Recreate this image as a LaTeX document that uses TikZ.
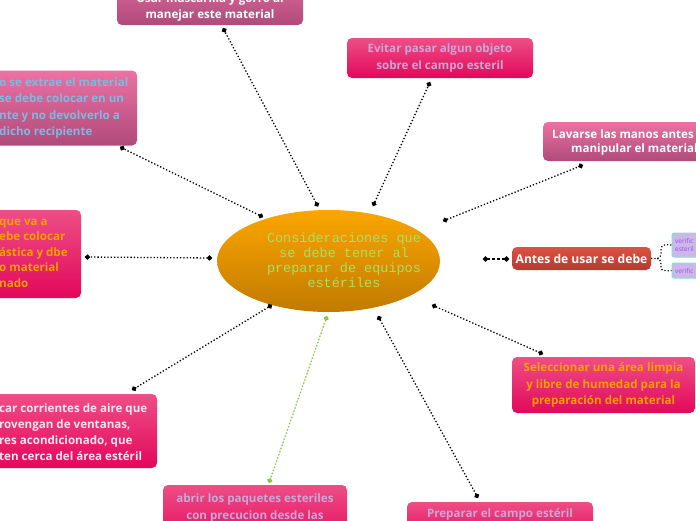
\documentclass[tikz,border=0pt]{standalone}
\usepackage{fontspec}
\setmainfont{Open Sans}
\newfontfamily\monof{Liberation Mono}
\usetikzlibrary{arrows.meta,shapes.geometric}
\definecolor{crimT}{HTML}{EE4E86}
\definecolor{crimB}{HTML}{E2085A}
\definecolor{pinkT}{HTML}{EC72A2}
\definecolor{pinkB}{HTML}{B04A7C}
\definecolor{redT}{HTML}{DC5242}
\definecolor{redB}{HTML}{B43A30}
\definecolor{orT}{HTML}{FAA600}
\definecolor{orB}{HTML}{C27A00}
\definecolor{lav}{HTML}{C8A8D8}
\definecolor{lblue}{HTML}{80B8E0}
\definecolor{ortx}{HTML}{F8A000}
\definecolor{grtx}{HTML}{A4E264}
\definecolor{wpink}{HTML}{FBE6F0}
\definecolor{smfill}{HTML}{CDB6E8}
\definecolor{smdraw}{HTML}{7FE3D6}
\definecolor{smtx}{HTML}{A050F0}
\definecolor{lgreen}{HTML}{8CC63F}
\begin{document}
\begin{tikzpicture}[x=1pt,y=-1pt,
  box/.style={rounded corners=5pt, inner sep=0pt},
  crim/.style={box, top color=crimT, bottom color=crimB},
  pinkb/.style={box, top color=pinkT, bottom color=pinkB},
  tx/.style={font=\fontsize{11.6}{16.2}\selectfont\bfseries, align=center, inner sep=0pt},
  txl/.style={tx, align=left, anchor=west},
  conn/.style={dotted, line width=1.3pt, {Circle[length=5pt]}-{Circle[length=5pt]}},
  small/.style={rounded corners=2pt, fill=smfill, draw=smdraw, line width=1pt},
  smtext/.style={font=\fontsize{6.5}{8.5}\selectfont, text=smtx, inner sep=0pt, align=left, anchor=west}
]
\useasboundingbox (0,0) rectangle (696,520);
\clip (0,0) rectangle (696,520);

% central ellipse
\node[ellipse, minimum width=223pt, minimum height=102pt, inner sep=0pt,
  top color=orT, bottom color=orB] (c) at (328.5,261) {};
\node[font=\monof\fontsize{13.5}{15}\selectfont, text=grtx, align=center, inner sep=0pt] (ct) at (344,260.5)
  {Consideraciones que\\se debe tener al\\preparar de equipos\\est\'eriles};

% box 1 (top)
\node[pinkb, minimum width=186pt, minimum height=60pt] (b1) at (210,-5) {};
\node[tx, text=white] (t1) at (210,7.5) {Usar mascarilla y gorro al\\manejar este material};

% box 2
\node[crim, minimum width=186pt, minimum height=40pt, tx, text=lav] (b2) at (440,58)
  {Evitar pasar algun objeto\\sobre el campo esteril};

% box 3 (left top)
\node[pinkb, minimum width=200pt, minimum height=75pt] (b3) at (37,108) {};
\node[txl, text=lblue] (t3) at (-1,108) {o se extrae el material\\se debe colocar en un\\nte y no devolverlo a\\dicho recipiente};

% box 4 (right top)
\node[pinkb, minimum width=190pt, minimum height=39pt] (b4) at (638,141.5) {};
\node[txl, text=white] (t4a) at (552,134.5) {Lavarse las manos antes};
\node[txl, text=white] (t4b) at (571,149) {manipular el material};

% box 5 (left middle)
\node[crim, minimum width=180pt, minimum height=88pt] (b5) at (-9,254) {};
\node[txl, text=ortx, font=\fontsize{11.6}{15.5}\selectfont\bfseries] (t5) at (-1,253) {que va a\\ebe colocar\\\'astica y dbe\\o material\\nado};

% box 6 Antes
\node[box, top color=redT, bottom color=redB, minimum width=139pt, minimum height=23pt,
  font=\fontsize{12.1}{14}\selectfont\bfseries, text=white] (b6) at (581.5,258.5) {Antes de usar se debe};

% small boxes
\node[small, minimum width=40pt, minimum height=24pt] (s1) at (692,245) {};
\node[smtext] (st1) at (675,245) {verific\\esteril};
\node[small, minimum width=40pt, minimum height=15pt] (s2) at (692,270.5) {};
\node[smtext] (st2) at (675,271) {verific};

% box 7
\node[crim, minimum width=183pt, minimum height=56pt, tx, text=ortx] (b7) at (603.5,385)
  {Seleccionar una \'area limpia\\y libre de humedad para la\\preparaci\'on del material};

% box 8 (left bottom)
\node[crim, minimum width=200pt, minimum height=74pt] (b8) at (57,431) {};
\node[txl, text=wpink] (t8) at (-1,432) {car corrientes de aire que\\rovengan de ventanas,\\res acondicionado, que\\ten cerca del \'area est\'eril};

% box 9
\node[crim, minimum width=184pt, minimum height=60pt] (b9) at (255,515) {};
\node[tx, text=lav] (t9) at (255,508) {abrir los paquetes esteriles\\con precucion desde las};

% box 10
\node[crim, minimum width=186pt, minimum height=40pt] (b10) at (500,522) {};
\node[tx, text=lav] (t10) at (500,514.5) {Preparar el campo est\'eril};

% connector end points
\coordinate (c1) at (318,206.5);
\coordinate (c2) at (373,206);
\coordinate (c3) at (263,217);
\coordinate (c4) at (443,221);
\coordinate (c5) at (212,258);
\coordinate (c6) at (483,259);
\coordinate (c7) at (432,305);
\coordinate (c8) at (272,305);
\coordinate (c9) at (327,316);
\coordinate (c10) at (378,316);
\coordinate (e1) at (223,28);
\coordinate (e2) at (430,82);
\coordinate (e3) at (120,147);
\coordinate (e4) at (583,165);
\coordinate (e5) at (85,257);
\coordinate (e6) at (509,259);
\coordinate (e7) at (543,354);
\coordinate (e8) at (132,390);
\coordinate (e9) at (269,483);
\coordinate (e10) at (478,498);

\draw[conn] (c1) -- (e1);
\draw[conn] (c2) -- (e2);
\draw[conn] (c3) -- (e3);
\draw[conn] (c4) -- (e4);
\draw[conn] (c5) -- (e5);
\draw[conn, dash pattern=on 2.5pt off 2.5pt] (c6) -- (e6);
\draw[conn] (c7) -- (e7);
\draw[conn] (c8) -- (e8);
\draw[conn, draw=lgreen, fill=lgreen] (c9) -- (e9);
\draw[conn] (c10) -- (e10);

% brace connector
\draw[dotted, line width=1.2pt] (b6.east) -- (657,258.5)
  .. controls (661,258.5) and (661,254) .. (661,250)
  .. controls (661,245) and (664,244) .. (s1.west);
\draw[dotted, line width=1.2pt] (657,258.5)
  .. controls (661,258.5) and (661,263) .. (661,267)
  .. controls (661,271) and (664,271) .. (s2.west);
\end{tikzpicture}
\end{document}
